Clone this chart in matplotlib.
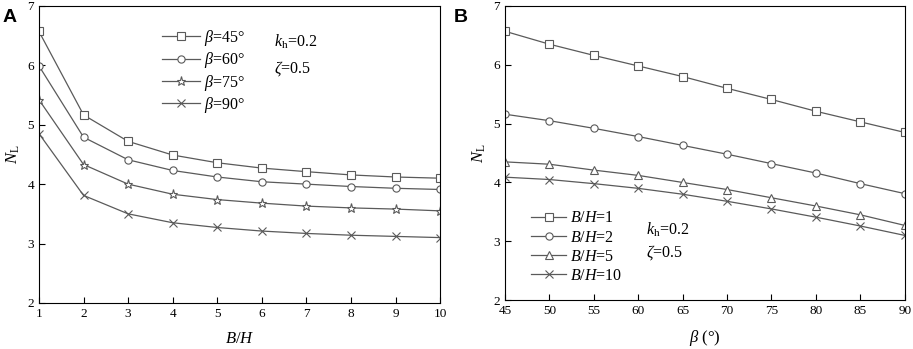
import matplotlib.pyplot as plt

plt.rcParams["font.family"] = ["Liberation Serif", "DejaVu Serif"]
plt.rcParams["mathtext.fontset"] = "custom"
plt.rcParams["mathtext.rm"] = "Liberation Serif"
plt.rcParams["mathtext.it"] = "Liberation Serif:italic"

# panel A: N_L vs B/H
bh = [1, 2, 3, 4, 5, 6, 7, 8, 9, 10]
nl_b45 = [6.57, 5.165, 4.72, 4.49, 4.36, 4.27, 4.21, 4.155, 4.12, 4.10]
nl_b60 = [5.99, 4.79, 4.41, 4.23, 4.12, 4.04, 4.00, 3.96, 3.93, 3.91]
nl_b75 = [5.42, 4.33, 4.00, 3.83, 3.74, 3.68, 3.63, 3.60, 3.58, 3.55]
nl_b90 = [4.85, 3.81, 3.50, 3.35, 3.27, 3.21, 3.17, 3.14, 3.12, 3.10]
labels_a = [r"$\beta$=45°", r"$\beta$=60°", r"$\beta$=75°", r"$\beta$=90°"]

# panel B: N_L vs beta
beta = [45, 50, 55, 60, 65, 70, 75, 80, 85, 90]
nl_bh1 = [6.57, 6.35, 6.16, 5.98, 5.80, 5.60, 5.41, 5.21, 5.03, 4.85]
nl_bh2 = [5.16, 5.05, 4.92, 4.78, 4.63, 4.48, 4.32, 4.16, 3.98, 3.81]
nl_bh5 = [4.35, 4.31, 4.21, 4.12, 4.00, 3.88, 3.74, 3.60, 3.45, 3.27]
nl_bh10 = [4.09, 4.05, 3.98, 3.90, 3.80, 3.68, 3.55, 3.41, 3.26, 3.10]
labels_b = ["$B/H$=1", "$B/H$=2", "$B/H$=5", "$B/H$=10"]

markers = ["s", "o", "*", "x"]
markers_b = ["s", "o", "^", "x"]
line_color = "#5a5a5a"

fig = plt.figure(figsize=(9.13, 3.49), dpi=100)
ax_a = fig.add_axes([0.0427, 0.132, 0.4393, 0.851])
ax_b = fig.add_axes([0.553, 0.140, 0.438, 0.843])


def draw_series(ax, x, series, mk, labels):
    for y, m, lab in zip(series, mk, labels):
        size = 6.5 if m == "*" else 5.2
        ax.plot(x, y, color=line_color, lw=0.9, marker=m, markersize=size,
                markerfacecolor="white", markeredgecolor=line_color,
                markeredgewidth=0.8, label=lab)


def style_axes(ax):
    ax.tick_params(direction="in", labelsize=9.5, length=4, width=0.8,
                   top=False, right=False)
    for s in ax.spines.values():
        s.set_linewidth(0.8)
    ax.set_ylim(2, 7)
    ax.set_yticks([2, 3, 4, 5, 6, 7])
    ax.set_ylabel("$N_{\\mathrm{L}}$", fontsize=12, labelpad=4)


draw_series(ax_a, bh, [nl_b45, nl_b60, nl_b75, nl_b90], markers, labels_a)
style_axes(ax_a)
ax_a.set_xlim(1, 10)
ax_a.set_xticks(bh)
ax_a.set_xlabel("$B/H$", fontsize=12, labelpad=8)
ax_a.legend(loc="upper left", bbox_to_anchor=(0.27, 0.975), frameon=False,
            fontsize=11.5, handlelength=2.4, labelspacing=0.15,
            handletextpad=0.25)
ax_a.text(0.585, 0.88, "$k_{\\mathrm{h}}$=0.2", transform=ax_a.transAxes,
          fontsize=11.5, va="center")
ax_a.text(0.585, 0.79, "$\\zeta$=0.5", transform=ax_a.transAxes,
          fontsize=11.5, va="center")

draw_series(ax_b, beta, [nl_bh1, nl_bh2, nl_bh5, nl_bh10], markers_b, labels_b)
style_axes(ax_b)
ax_b.set_xlim(45, 90)
ax_b.set_xticks(beta)
ax_b.set_xlabel("$\\beta$ (°)", fontsize=12, labelpad=8)
ax_b.legend(loc="lower left", bbox_to_anchor=(0.03, 0.006), frameon=False,
            fontsize=11.5, handlelength=2.2, labelspacing=0.2,
            handletextpad=0.25)
ax_b.text(0.352, 0.238, "$k_{\\mathrm{h}}$=0.2", transform=ax_b.transAxes,
          fontsize=11.5, va="center")
ax_b.text(0.352, 0.163, "$\\zeta$=0.5", transform=ax_b.transAxes,
          fontsize=11.5, va="center")

fig.text(0.003, 0.975, "A", fontsize=14, fontweight="bold",
         family="Liberation Sans", va="top")
fig.text(0.497, 0.975, "B", fontsize=14, fontweight="bold",
         family="Liberation Sans", va="top")

fig.savefig("out.png", dpi=100)
